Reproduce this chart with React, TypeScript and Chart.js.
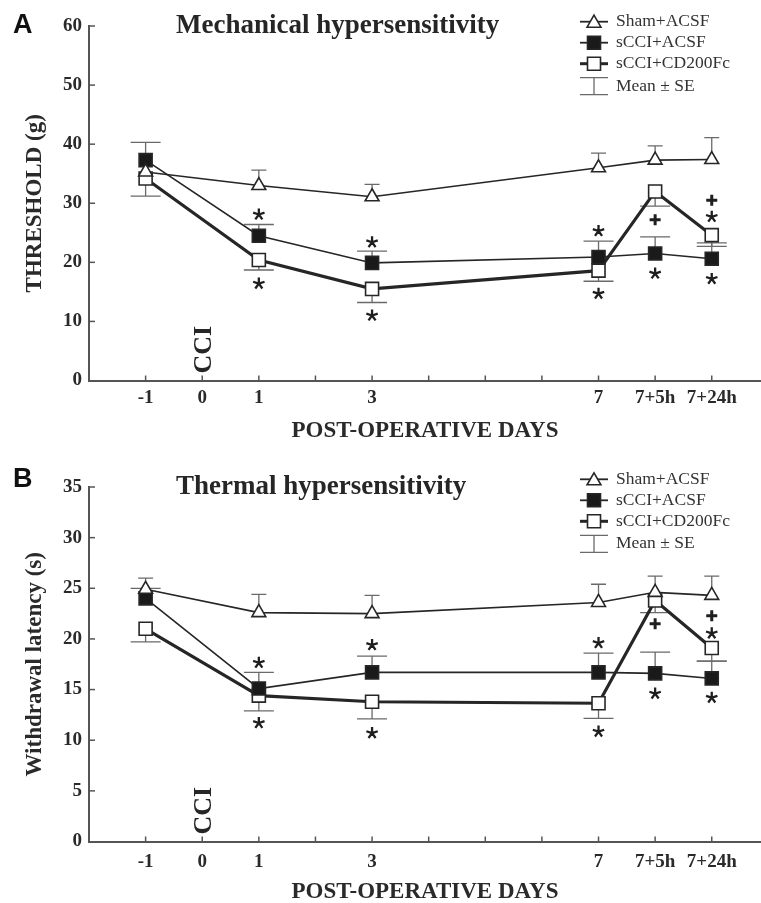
import React, { useEffect, useRef } from 'react';
import { Chart, registerables } from 'chart.js';
Chart.register(...registerables);

// ---------- data ----------
const X_DAYS = [-1, 1, 3, 7, 8, 9];
const X_TICKS = [-1, 0, 1, 2, 3, 4, 5, 6, 7, 8, 9];
const X_TICK_LABELS = ['-1', '0', '1', '', '3', '', '', '', '7', '7+5h', '7+24h'];
const SERIES_NAMES = ['Sham+ACSF', 'sCCI+ACSF', 'sCCI+CD200Fc'];
const SE_LABEL = 'Mean ± SE';

// Panel A – mechanical threshold (g)
const A_SHAM = [35.3, 33.0, 31.1, 36.0, 37.3, 37.4];
const A_SHAM_SE = [0, 2.6, 2.1, 2.5, 2.4, 3.7];
const A_SCCI = [37.3, 24.5, 19.9, 20.9, 21.5, 20.6];
const A_SCCI_SE = [3.0, 1.9, 2.0, 2.7, 2.8, 2.7];
const A_CD200 = [34.2, 20.4, 15.5, 18.6, 32.0, 24.6];
const A_CD200_SE = [3.0, 1.7, 2.3, 1.8, 2.5, 1.9];
const A_MARK_X = [1, 1, 3, 3, 7, 7, 8, 8, 9, 9, 9];
const A_MARK_Y = [28.1, 16.4, 23.4, 11.0, 25.3, 14.7, 27.2, 18.1, 30.5, 27.7, 17.2];
const A_MARK_SYM = ['*', '*', '*', '*', '*', '*', '+', '*', '+', '*', '*'];

// Panel B – withdrawal latency (s)
const B_SHAM = [24.9, 22.6, 22.5, 23.6, 24.6, 24.3];
const B_SHAM_SE = [1.1, 1.8, 1.8, 1.8, 1.6, 1.9];
const B_SCCI = [24.0, 15.1, 16.7, 16.7, 16.6, 16.1];
const B_SCCI_SE = [1.0, 1.6, 1.6, 1.9, 2.1, 1.7];
const B_CD200 = [21.0, 14.4, 13.8, 13.65, 23.8, 19.1];
const B_CD200_SE = [1.3, 1.5, 1.7, 1.5, 1.2, 1.3];
const B_MARK_X = [1, 1, 3, 3, 7, 7, 8, 8, 9, 9, 9];
const B_MARK_Y = [17.65, 11.7, 19.4, 10.7, 19.6, 10.85, 21.5, 14.6, 22.3, 20.55, 14.2];
const B_MARK_SYM = ['*', '*', '*', '*', '*', '*', '+', '*', '+', '*', '*'];

// ---------- styling ----------
const SERIF = "'Liberation Serif', 'Times New Roman', serif";
const SANS = "'Liberation Sans', Arial, sans-serif";
const INK = '#262626';
const AXIS = '#555555';
const ERR = '#6a6a6a';

type Panel = {
  letter: string;
  title: string;
  yTitle: string;
  yMax: number;
  yStep: number;
  height: number;
  top: number;
  xTitlePad: number;
  xTickPad: number;
  legendY: number;
  titleY: number;
  letterY: number;
  series: number[][];
  se: number[][];
  markX: number[];
  markY: number[];
  markSym: string[];
};

const PANELS: Panel[] = [
  {
    letter: 'A', title: 'Mechanical hypersensitivity', yTitle: 'THRESHOLD (g)',
    yMax: 60, yStep: 10, height: 451, top: 26, xTitlePad: 6, xTickPad: 6.5,
    legendY: 21.7, titleY: 33, letterY: 33,
    series: [A_SHAM, A_SCCI, A_CD200], se: [A_SHAM_SE, A_SCCI_SE, A_CD200_SE],
    markX: A_MARK_X, markY: A_MARK_Y, markSym: A_MARK_SYM,
  },
  {
    letter: 'B', title: 'Thermal hypersensitivity', yTitle: 'Withdrawal latency (s)',
    yMax: 35, yStep: 5, height: 452, top: 36, xTitlePad: -3, xTickPad: 9,
    legendY: 28.3, titleY: 43, letterY: 36,
    series: [B_SHAM, B_SCCI, B_CD200], se: [B_SHAM_SE, B_SCCI_SE, B_CD200_SE],
    markX: B_MARK_X, markY: B_MARK_Y, markSym: B_MARK_SYM,
  },
];

const ERR_DIR = [1, 1, -1];
const CAP_W = [15, 30, 30];

function drawMarker(ctx: CanvasRenderingContext2D, kind: number, x: number, y: number) {
  ctx.save();
  ctx.lineWidth = 1.6;
  ctx.strokeStyle = INK;
  if (kind === 0) {
    const r = 8;
    ctx.beginPath();
    for (let k = 0; k < 3; k++) {
      const a = (k * 2 * Math.PI) / 3;
      const px = x + Math.sin(a) * r;
      const py = y - Math.cos(a) * r;
      if (k === 0) ctx.moveTo(px, py); else ctx.lineTo(px, py);
    }
    ctx.closePath();
    ctx.fillStyle = '#fff';
    ctx.fill();
    ctx.stroke();
  } else {
    const s = 6.5;
    ctx.beginPath();
    ctx.rect(x - s, y - s, 2 * s, 2 * s);
    ctx.fillStyle = kind === 1 ? '#1a1a1a' : '#fff';
    ctx.fill();
    ctx.stroke();
  }
  ctx.restore();
}

function makeDecor(p: Panel) {
  return {
    id: 'decor' + p.letter,
    beforeDatasetsDraw(chart: any) {
      const ctx: CanvasRenderingContext2D = chart.ctx;
      const xs = chart.scales.x;
      const ys = chart.scales.y;
      ctx.save();
      ctx.strokeStyle = ERR;
      ctx.lineWidth = 1.3;
      p.series.forEach((vals, i) => {
        vals.forEach((v, j) => {
          const e = p.se[i][j];
          if (!e) return;
          const px = xs.getPixelForValue(X_DAYS[j]);
          const y0 = ys.getPixelForValue(v);
          const y1 = ys.getPixelForValue(v + ERR_DIR[i] * e);
          ctx.beginPath();
          ctx.moveTo(px, y0);
          ctx.lineTo(px, y1);
          ctx.moveTo(px - CAP_W[i] / 2, y1);
          ctx.lineTo(px + CAP_W[i] / 2, y1);
          ctx.stroke();
        });
      });
      ctx.restore();
    },
    afterDraw(chart: any) {
      const ctx: CanvasRenderingContext2D = chart.ctx;
      const xs = chart.scales.x;
      const ys = chart.scales.y;
      const area = chart.chartArea;
      ctx.save();
      // inward tick marks
      ctx.strokeStyle = AXIS;
      ctx.lineWidth = 1.5;
      X_TICKS.forEach((t) => {
        const px = xs.getPixelForValue(t);
        ctx.beginPath();
        ctx.moveTo(px, area.bottom);
        ctx.lineTo(px, area.bottom - 5);
        ctx.stroke();
      });
      ys.ticks.forEach((t: any) => {
        if (t.value === 0) return;
        const py = ys.getPixelForValue(t.value);
        ctx.beginPath();
        ctx.moveTo(area.left, py);
        ctx.lineTo(area.left + 6, py);
        ctx.stroke();
      });

      // significance marks
      ctx.strokeStyle = '#1e1e1e';
      p.markX.forEach((mx, k) => {
        const px = xs.getPixelForValue(mx);
        const py = ys.getPixelForValue(p.markY[k]);
        ctx.beginPath();
        if (p.markSym[k] === '+') {
          ctx.lineWidth = 3;
          ctx.moveTo(px - 5.5, py);
          ctx.lineTo(px + 5.5, py);
          ctx.moveTo(px, py - 5.5);
          ctx.lineTo(px, py + 5.5);
        } else {
          ctx.lineWidth = 2.3;
          for (let s = 0; s < 5; s++) {
            const a = -Math.PI / 2 + (s * 2 * Math.PI) / 5;
            ctx.moveTo(px, py);
            ctx.lineTo(px + Math.cos(a) * 6, py + Math.sin(a) * 6);
          }
        }
        ctx.stroke();
      });

      // CCI label
      ctx.fillStyle = INK;
      ctx.font = `bold 26px ${SERIF}`;
      const cx = xs.getPixelForValue(0);
      ctx.translate(cx + 8.5, area.bottom - 7);
      ctx.rotate(-Math.PI / 2);
      ctx.textAlign = 'left';
      ctx.textBaseline = 'alphabetic';
      ctx.fillText('CCI', 0, 0);
      ctx.setTransform(1, 0, 0, 1, 0, 0);

      // panel letter
      ctx.font = `bold 27px ${SANS}`;
      ctx.fillStyle = '#111';
      ctx.textAlign = 'left';
      ctx.fillText(p.letter, 13, p.letterY);

      // title
      ctx.font = `bold 27px ${SERIF}`;
      ctx.fillStyle = INK;
      ctx.fillText(p.title, 176, p.titleY);

      // legend
      const lx0 = 580, lx1 = 608, lxm = 594, tx = 616, dy = 21;
      ctx.font = `17.5px ${SERIF}`;
      ctx.textBaseline = 'middle';
      for (let i = 0; i < 3; i++) {
        const y = p.legendY + i * dy;
        ctx.strokeStyle = INK;
        ctx.lineWidth = i === 2 ? 3 : 1.8;
        ctx.beginPath();
        ctx.moveTo(lx0, y);
        ctx.lineTo(lx1, y);
        ctx.stroke();
        drawMarker(ctx, i, lxm, i === 0 ? y + 1.5 : y);
        ctx.fillStyle = '#333';
        ctx.fillText(SERIES_NAMES[i], tx, y);
      }
      const yE = p.legendY + 3 * dy + 1.5;
      ctx.strokeStyle = ERR;
      ctx.lineWidth = 1.3;
      ctx.beginPath();
      ctx.moveTo(lx0, yE - 8.5);
      ctx.lineTo(lx1, yE - 8.5);
      ctx.moveTo(lxm, yE - 8.5);
      ctx.lineTo(lxm, yE + 8.5);
      ctx.moveTo(lx0, yE + 8.5);
      ctx.lineTo(lx1, yE + 8.5);
      ctx.stroke();
      ctx.fillStyle = '#333';
      ctx.fillText(SE_LABEL, tx, yE);
      ctx.restore();
    },
  };
}

function buildConfig(p: Panel): any {
  const styles = [
    { pointStyle: 'triangle', radius: 8, bg: '#fff', width: 1.6 },
    { pointStyle: 'rect', radius: 9.2, bg: '#1a1a1a', width: 1.6 },
    { pointStyle: 'rect', radius: 9.2, bg: '#fff', width: 3.2 },
  ];
  return {
    type: 'line',
    data: {
      datasets: p.series.map((vals, i) => ({
        label: SERIES_NAMES[i],
        data: vals.map((v, j) => ({ x: X_DAYS[j], y: v })),
        borderColor: INK,
        borderWidth: styles[i].width,
        pointStyle: styles[i].pointStyle,
        pointRadius: styles[i].radius,
        pointBackgroundColor: styles[i].bg,
        pointBorderColor: INK,
        pointBorderWidth: 1.6,
        tension: 0,
        fill: false,
      })),
    },
    options: {
      responsive: false,
      animation: false,
      events: [],
      layout: { autoPadding: false, padding: { top: p.top, left: 0, right: 0, bottom: 0 } },
      plugins: { legend: { display: false }, tooltip: { enabled: false }, title: { display: false } },
      scales: {
        x: {
          type: 'linear',
          min: -2,
          max: 9.87,
          afterBuildTicks: (scale: any) => {
            scale.ticks = X_TICKS.map((v) => ({ value: v }));
          },
          afterFit: (scale: any) => {
            scale.height = p.height - (p.top + 354.5);
            scale.paddingLeft = 0;
            scale.paddingRight = 0;
          },
          grid: { display: false, drawTicks: false },
          border: { display: true, color: AXIS, width: 2 },
          ticks: {
            autoSkip: false,
            maxRotation: 0,
            padding: p.xTickPad,
            color: '#2a2a2a',
            font: { family: SERIF, size: 19, weight: 'bold' },
            callback: (v: number) => {
              const idx = X_TICKS.indexOf(v);
              return idx >= 0 ? X_TICK_LABELS[idx] : '';
            },
          },
          title: {
            display: true,
            text: 'POST-OPERATIVE DAYS',
            color: '#2a2a2a',
            font: { family: SERIF, size: 23, weight: 'bold' },
            padding: { top: 0, bottom: p.xTitlePad },
          },
        },
        y: {
          min: 0,
          max: p.yMax,
          afterFit: (scale: any) => {
            scale.width = 89;
            scale.paddingTop = 0;
            scale.paddingBottom = 0;
          },
          grid: { display: false, drawTicks: false },
          border: { display: true, color: AXIS, width: 2 },
          ticks: {
            stepSize: p.yStep,
            padding: 7,
            color: '#2a2a2a',
            font: { family: SERIF, size: 19, weight: 'bold' },
          },
          title: {
            display: true,
            text: p.yTitle,
            color: '#2a2a2a',
            font: { family: SERIF, size: 23, weight: 'bold' },
            padding: { top: 21, bottom: 0 },
          },
        },
      },
    },
    plugins: [makeDecor(p)],
  };
}

function PanelChart({ panel }: { panel: Panel }) {
  const ref = useRef<HTMLCanvasElement | null>(null);
  useEffect(() => {
    if (!ref.current) return;
    const chart = new Chart(ref.current, buildConfig(panel));
    return () => chart.destroy();
  }, [panel]);
  return (
    <canvas
      ref={ref}
      width={761}
      height={panel.height}
      style={{ display: 'block', width: 761, height: panel.height }}
    />
  );
}

export default function App() {
  return (
    <div style={{ position: 'absolute', left: 0, top: 0, width: 761, height: 903, background: '#fff' }}>
      {PANELS.map((p) => (
        <PanelChart key={p.letter} panel={p} />
      ))}
    </div>
  );
}
